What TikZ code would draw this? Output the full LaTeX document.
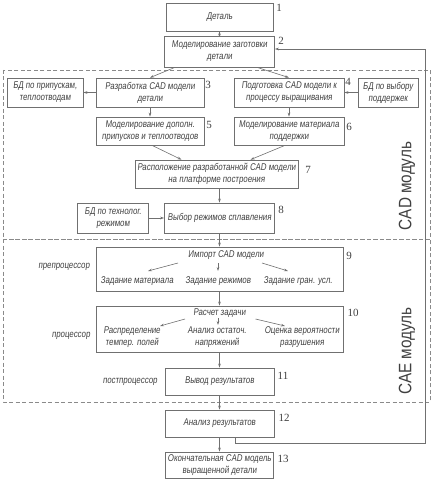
\documentclass[tikz,border=0pt]{standalone}
\usepackage{fontspec}
\setmainfont{Liberation Sans}[FakeStretch=0.8, FakeSlant=0.12]
\newfontfamily\upfont{Liberation Sans}[FakeStretch=0.85]
\newfontfamily\numfont{Liberation Serif}
\usetikzlibrary{arrows.meta,calc}
\definecolor{ln}{HTML}{707070}
\definecolor{txt}{HTML}{404040}
\definecolor{dsh}{HTML}{8A8A8A}
\newcommand{\bx}{\fontsize{9.8bp}{12bp}\selectfont}
\newcommand{\nm}{\numfont\fontsize{11bp}{12bp}\selectfont}
\begin{document}
\begin{tikzpicture}[x=1bp,y=-1bp,
  every node/.style={text=txt},
  box/.style={draw=ln, line width=0.7bp, align=center, inner sep=1bp, font=\bx},
  sz/.style 2 args={minimum width=#1bp, minimum height=#2bp},
  lbl/.style={inner sep=1bp, align=center, font=\bx},
  num/.style={inner sep=0pt, font=\nm},
  arr/.style={draw=ln, line width=0.6bp, -{Stealth[length=4bp,width=2.6bp]}},
  dashbox/.style={draw=dsh, line width=0.7bp, dash pattern=on 4bp off 2.5bp},
  modlbl/.style={rotate=90, inner sep=0pt, font=\upfont\fontsize{18bp}{20bp}\selectfont}]
\useasboundingbox (0,0) rectangle (433,480);
% module frames
\draw[dashbox] (3,70) rectangle (430,239);
\draw[dashbox] (3,239) rectangle (430,402);
\node[modlbl] (cad) at (407,186) {CAD модуль};
\node[modlbl] (cae) at (407,351) {CAE модуль};
% boxes
\node[box, sz={107}{28}] (n1) at (219.5,17) {Деталь};
\node[box, sz={110}{31}] (n2) at (219.5,51.5) {Моделирование заготовки\\детали};
\node[box, sz={76}{29}] (bd1) at (45,92.5) {БД по припускам,\\теплоотводам};
\node[box, sz={108}{29}] (n3) at (150,92.5) {Разработка CAD модели\\детали};
\node[box, sz={110}{29}] (n4) at (289,92.5) {Подготовка CAD модели к\\процессу выращивания};
\node[box, sz={60}{29}] (bd2) at (388,92.5) {БД по выбору\\поддержек};
\node[box, sz={108}{28}] (n5) at (150,131) {Моделирование дополн.\\припусков и теплоотводов};
\node[box, sz={110}{28}] (n6) at (289,131) {Моделирование материала\\поддержки};
\node[box, sz={163}{28}] (n7) at (216.5,174) {Расположение разработанной CAD модели\\на платформе построения};
\node[box, sz={71}{30}] (bd3) at (113,218) {БД по технолог.\\режимом};
\node[box, sz={110}{30}] (n8) at (219.5,218) {Выбор режимов сплавления};
\node[box, sz={247}{44}] (n9) at (219.5,269) {};
\node[box, sz={247}{46}] (n10) at (219.5,329) {};
\node[box, sz={109}{27}] (n11) at (219.5,381.5) {Вывод результатов};
\node[box, sz={109}{27}] (n12) at (219.5,423.5) {Анализ результатов};
\node[box, sz={108}{26}] (n13) at (219.5,465) {Окончательная CAD модель\\выращенной детали};
% inner texts
\node[lbl] (imp) at (226,255) {Импорт CAD модели};
\node[lbl] (z1) at (137,281) {Задание материала};
\node[lbl] (z2) at (218,281) {Задание режимов};
\node[lbl] (z3) at (298,281) {Задание гран. усл.};
\node[lbl] (rz) at (219.5,313) {Расчет задачи};
\node[lbl] (r1) at (132,337) {Распределение\\темпер. полей};
\node[lbl] (r2) at (217,337) {Анализ остаточ.\\напряжений};
\node[lbl] (r3) at (302,337) {Оценка вероятности\\разрушения};
% side labels
\node[lbl] (pre) at (64,267) {препроцессор};
\node[lbl] (pro) at (71,336) {процессор};
\node[lbl] (post) at (130,382) {постпроцессор};
% numbers
\node[num] (k1) at (279,8) {1};
\node[num] (k2) at (281,41) {2};
\node[num] (k3) at (208,85) {3};
\node[num] (k4) at (348,82) {4};
\node[num] (k5) at (209,125) {5};
\node[num] (k6) at (349,127) {6};
\node[num] (k7) at (308,170) {7};
\node[num] (k8) at (281,210) {8};
\node[num] (k9) at (349,256) {9};
\node[num] (k10) at (353,313) {10};
\node[num] (k11) at (283,376) {11};
\node[num] (k12) at (284,418) {12};
\node[num] (k13) at (283,459) {13};
% connectors
\draw[arr] (n2) -- (n1);
\draw[arr] ($(n2.south)+(-44.5,0)$) -- (n3.north);
\draw[arr] ($(n2.south)+(37.5,0)$) -- (n4.north);
\draw[arr] (n3) -- (bd1);
\draw[arr] (bd2) -- (n4);
\draw[arr] (n3) -- (n5);
\draw[arr] (n4) -- (n6);
\draw[arr] ($(n5.south)+(2,0)$) -- ($(n7.north)+(-35,0)$);
\draw[arr] ($(n6.south)+(-4,0)$) -- ($(n7.north)+(34,0)$);
\draw[arr] (n7.south -| n8.north) -- (n8.north);
\draw[arr] (bd3) -- (n8);
\draw[arr] (n8) -- (n9);
\draw[arr] ($(imp)+(-48,8)$) -- ($(z1)+(11,-10)$);
\draw[arr] ($(imp)+(-8,8)$) -- ($(z2)+(0,-10)$);
\draw[arr] ($(imp)+(36,8)$) -- ($(z3)+(-10,-10)$);
\draw[arr] (n9) -- (n10);
\draw[arr] ($(rz)+(-34.5,6)$) -- ($(r1)+(28,-11)$);
\draw[arr] ($(rz)+(-1.5,5)$) -- ($(r2)+(1,-12)$);
\draw[arr] ($(rz)+(36,6)$) -- ($(r3)+(-17,-11)$);
\draw[arr] (n10) -- (n11);
\draw[arr] (n11) -- (n12);
\draw[arr] (n12) -- (n13);
\coordinate (fbB) at (425,443);
\coordinate (fbT) at (425,49);
\draw[arr] ([xshift=15.5bp]n12.south) |- (fbB) -- (fbT) -- (n2.east |- fbT);
\end{tikzpicture}
\end{document}
